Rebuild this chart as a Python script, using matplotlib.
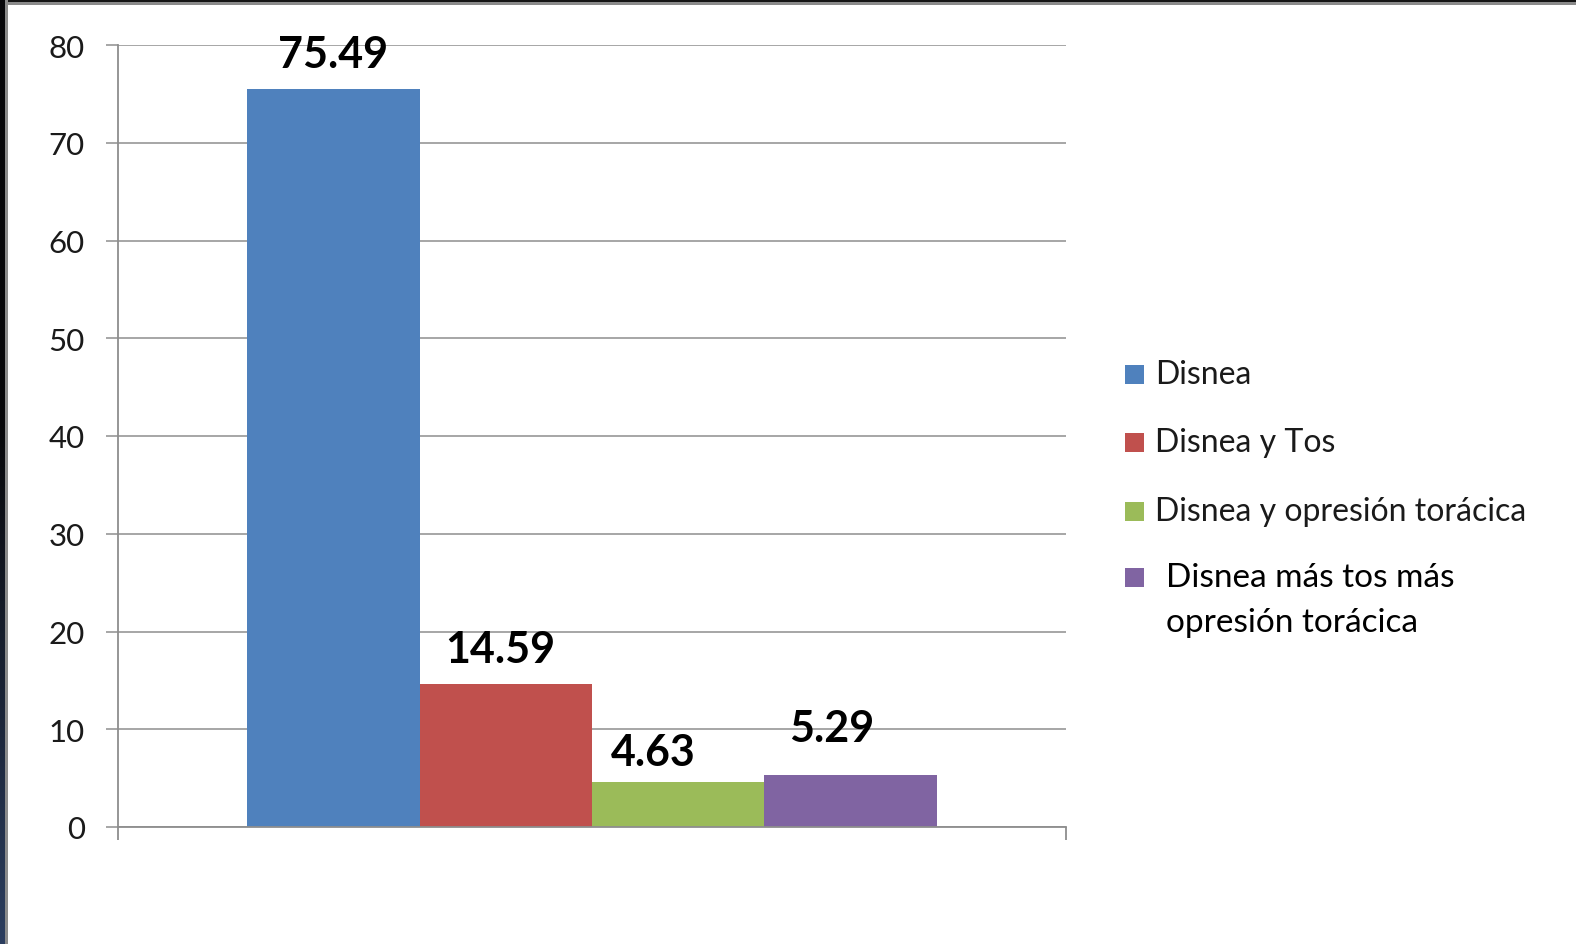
import matplotlib
matplotlib.use("Agg")
import matplotlib.pyplot as plt
import numpy as np
from matplotlib.patches import Rectangle

# --- data ---
series = ['Disnea', 'Disnea y Tos', 'Disnea y opresión torácica',
          'Disnea más tos más\nopresión torácica']
values = [75.49, 14.59, 4.63, 5.29]
value_labels = ['75.49', '14.59', '4.63', '5.29']
yticks = [0, 10, 20, 30, 40, 50, 60, 70, 80]

colors = ['#4f81bd', '#c0504d', '#9bbb59', '#8064a2']
grid_gray = '#8e8e8e'

W, H = 1576, 945
plt.rcParams['font.family'] = ['Lato', 'DejaVu Sans']

fig = plt.figure(figsize=(W / 100, H / 100), dpi=100)
fig.patch.set_facecolor('white')


def fx(px):
    return px / W


def fy(py):
    return 1 - py / H


# plot area
ax = fig.add_axes([fx(118), fy(828), fx(1066) - fx(118), fy(46) - fy(828)])

# one category, four series side by side, 150% gap like the office default
n = len(values)
bar_w = 1 / (n + 1.5)
xpos = 0.5 + (np.arange(n) - (n - 1) / 2) * bar_w
bars = ax.bar(xpos, values, width=bar_w, color=colors, edgecolor='none', zorder=3)

ax.set_xlim(0, 1)
ax.set_ylim(0, 80)
ax.set_yticks(yticks)
ax.set_yticklabels([str(t) for t in yticks])
ax.set_xticks([0, 1])
ax.set_xticklabels(['', ''])

ax.grid(axis='y', color=grid_gray, linewidth=1.1, zorder=0)
for s in ['top', 'right']:
    ax.spines[s].set_visible(False)
for s in ['left', 'bottom']:
    ax.spines[s].set_color(grid_gray)
    ax.spines[s].set_linewidth(1.3)
    ax.spines[s].set_zorder(4)
ax.tick_params(axis='y', direction='out', length=9, width=1.1, color=grid_gray,
               labelsize=22.5, labelcolor='#1a1a1a', pad=15)
ax.tick_params(axis='x', direction='out', length=9, width=1.3, color=grid_gray)

# value labels above the bars (small nudges in pixels)
nudge = [(0, 0), (-6, 0), (-25, -6), (-19, 12)]
for rect, lab, (dx, dy) in zip(bars, value_labels, nudge):
    ax.annotate(lab,
                xy=(rect.get_x() + rect.get_width() / 2, rect.get_height()),
                xytext=(dx * 0.72, 11 + dy * 0.72), textcoords='offset points',
                ha='center', va='bottom', fontsize=31, fontweight='bold',
                color='black', zorder=5)

# legend drawn by hand so the two-line entry keeps its square on the first line
rows_y = [375, 443, 512, 578]
text_x = [1155, 1155, 1155, 1166]
sq = 19
for c, lab, ry, tx in zip(colors, series, rows_y, text_x):
    fig.patches.append(Rectangle((fx(1125), fy(ry + sq / 2)), fx(sq), sq / H,
                                 transform=fig.transFigure, facecolor=c,
                                 edgecolor='none'))
    lines = lab.split('\n')
    if len(lines) == 1:
        fig.text(fx(tx), fy(ry), lab, ha='left', va='center', fontsize=23,
                 color='#1a1a1a')
    else:
        for k, line in enumerate(lines):
            fig.text(fx(tx), fy(ry + 45 * k), line, ha='left', va='center',
                     fontsize=24, color='black')

# dark frame along the top and left edges
fig.patches.append(Rectangle((0, fy(3)), 1, 3 / H, transform=fig.transFigure,
                             facecolor='#141414', edgecolor='none', zorder=10))
fig.patches.append(Rectangle((0, fy(6)), 1, 3 / H, transform=fig.transFigure,
                             facecolor='#8a8a8a', edgecolor='none', zorder=10))
fig.patches.append(Rectangle((fx(5), 0), 3 / W, 1, transform=fig.transFigure,
                             facecolor='#8a8a8a', edgecolor='none', zorder=10))
edge = fig.add_axes([0, 0, fx(5), 1], zorder=11)
grad = np.linspace(0, 1, 256)[:, None]
top_c = np.array([0.03, 0.03, 0.04])
bot_c = np.array([0.17, 0.24, 0.37])
mix = np.clip((grad - 0.45) / 0.55, 0, 1)
img = top_c + (bot_c - top_c) * mix[..., None]
edge.imshow(np.repeat(img, 2, axis=1), aspect='auto', extent=[0, 1, 1, 0])
edge.set_axis_off()

fig.savefig('out.png', dpi=100, facecolor='white')
